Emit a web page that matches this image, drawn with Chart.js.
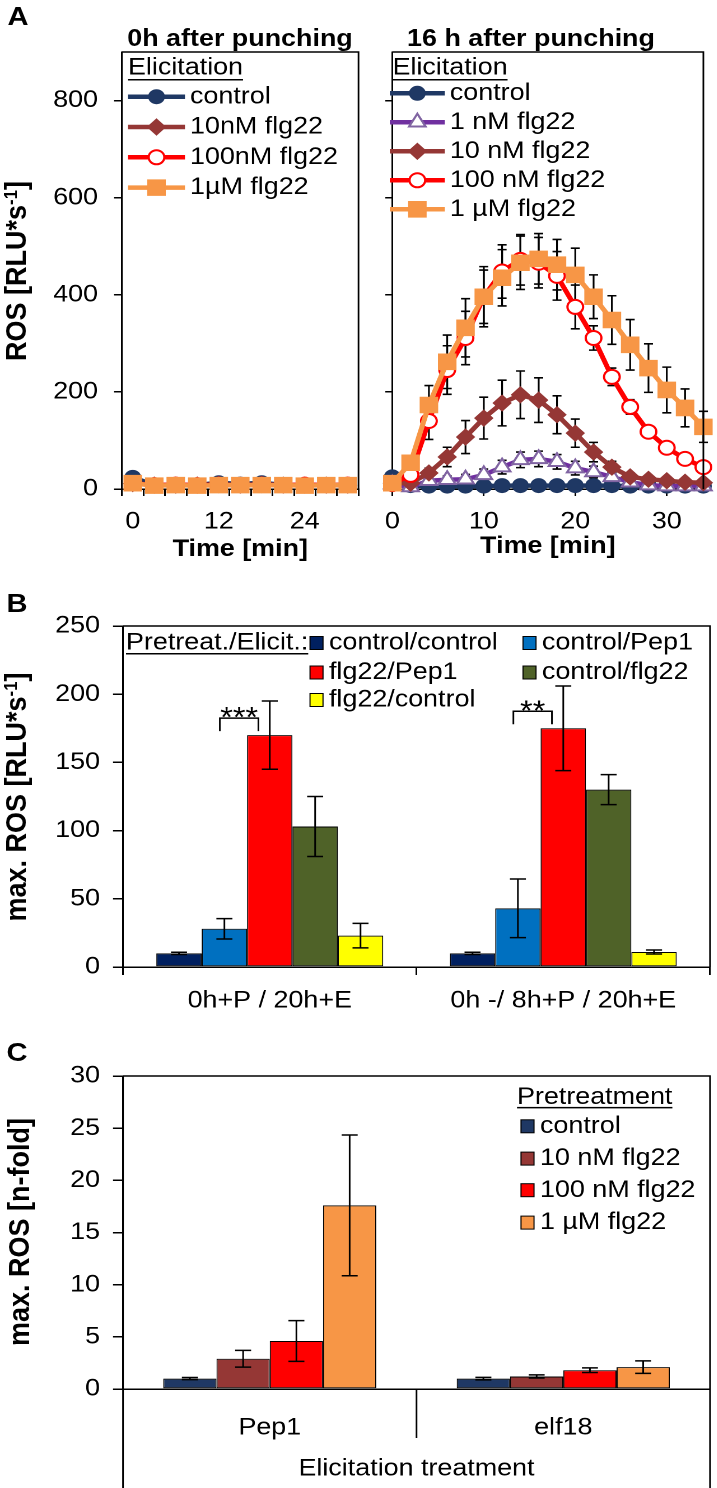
<!DOCTYPE html>
<html><head><meta charset="utf-8">
<script src="https://cdn.jsdelivr.net/npm/chart.js@4.4.1/dist/chart.umd.min.js"></script>
<style>
html,body{margin:0;padding:0;background:#fff;}
body{width:717px;height:1488px;overflow:hidden;position:relative;font-family:"Liberation Sans",Arial,sans-serif;}
#root{position:absolute;left:0;top:0;width:640.18px;height:1488px;transform:scaleX(1.12);transform-origin:0 0;}
.box{position:absolute;}
.txt{position:absolute;white-space:nowrap;color:#000;line-height:1;}
.txt sup{font-size:0.62em;vertical-align:0.5em;line-height:0;}
</style></head><body><div id="root"></div>
<script>
// ---------- DATA ----------
// Panel A, 0 h after punching (time in min)
const timesA0 = [0,3,6,9,12,15,18,21,24,27,30];
const a0ShownTicks = [0,12,24];
const a0Control  = [24,8,8,8,13,10,13,8,8,8,8];
const a0Flg10    = [11,8,8,8,9,8,9,8,8,8,8];
const a0Flg100   = [12,8,9,8,9,8,9,8,9,8,9];
const a0Flg1000  = [12,7,8,7,8,8,8,8,7,8,8];
// Panel A, 16 h after punching
const timesA16 = [0,2,4,6,8,10,12,14,16,18,20,22,24,26,28,30,32,34];
const a16XTicks = [0,10,20,30];
const a16Control = [25,7,6,6,6,6,7,7,7,7,7,7,7,6,6,6,6,6];
const a16Flg1    = [10,4,17,19,20,29,45,60,62,56,43,35,25,14,8,6,6,6];
const a16Flg10   = [12,12,33,66,107,146,177,194,183,153,115,76,45,25,20,17,14,13];
const a16Flg100  = [10,29,140,245,311,396,448,472,466,439,375,311,231,169,118,85,62,45];
const a16Flg1000 = [12,54,173,262,332,396,435,466,474,462,441,396,348,297,249,204,167,128];
const a16ErrControl = [2,2,2,2,2,2,2,2,2,2,2,2,2,2,2,2,2,2];
const a16ErrFlg1    = [2,3,5,8,10,12,14,16,16,15,14,12,10,8,5,4,3,3];
const a16ErrFlg10   = [2,4,10,20,34,43,47,49,46,39,29,20,12,8,5,4,3,3];
const a16ErrFlg100  = [2,8,38,50,55,55,55,52,52,50,45,25,18,15,12,10,8,6];
const a16ErrFlg1000 = [2,10,40,55,60,62,58,55,52,52,55,45,50,52,50,47,39,32];
// Panel B
const catsB = ['0h+P / 20h+E','0h -/ 8h+P / 20h+E'];
const bCtrlCtrl = [10,10];
const bCtrlPep1 = [28,43];
const bFlgPep1  = [170,175];
const bCtrlFlg  = [103,130];
const bFlgCtrl  = [23,11];
const bErrCtrlCtrl = [0.8,0.8];
const bErrCtrlPep1 = [7.5,21.5];
const bErrFlgPep1  = [25,31];
const bErrCtrlFlg  = [22,11];
const bErrFlgCtrl  = [9,1.5];
const sigText = ['***','**'];
const sigTop  = [182.5,187.5];
// Panel C
const catsC = ['Pep1','elf18'];
const cCtrl    = [1.0,1.0];
const cFlg10   = [2.9,1.2];
const cFlg100  = [4.6,1.8];
const cFlg1000 = [17.6,2.1];
const cErrCtrl    = [0.1,0.12];
const cErrFlg10   = [0.8,0.15];
const cErrFlg100  = [1.95,0.22];
const cErrFlg1000 = [6.75,0.6];

// ---------- SETUP ----------
const S = 1.12;
const ix = v => v / S;
const FONT = '"Liberation Sans", Arial, sans-serif';
Chart.defaults.font.family = FONT;
Chart.defaults.font.size = 24;
Chart.defaults.color = '#000';
const root = document.getElementById('root');

const NAVY='#1F3864', PURPLE='#7030A0', PURPLE_M='#8064A2', BROWN='#953735', RED='#FF0000', ORANGE='#F79646';

function addText(html, vx, vy, css, rot) {
  const d = document.createElement('div');
  d.className = 'txt';
  d.innerHTML = html;
  d.style.cssText += css;
  d.style.left = ix(vx) + 'px';
  d.style.top = vy + 'px';
  d.style.transform = 'translate(-50%,-50%)' + (rot ? ' rotate(-90deg)' : '');
  root.appendChild(d);
}

function makeChart(vLeft, top, vWidth, height, config) {
  const div = document.createElement('div');
  div.className = 'box';
  div.style.left = ix(vLeft) + 'px';
  div.style.top = top + 'px';
  div.style.width = ix(vWidth) + 'px';
  div.style.height = height + 'px';
  const c = document.createElement('canvas');
  div.appendChild(c);
  root.appendChild(div);
  const o = config.options;
  o.responsive = true; o.maintainAspectRatio = false; o.animation = false; o.devicePixelRatio = 2;
  o.plugins = Object.assign({legend:{display:false}, tooltip:{enabled:false}}, o.plugins || {});
  return new Chart(c, config);
}

function yAxis(o) {
  const ax = {
    type: 'linear', min: o.min, max: o.max,
    ticks: { stepSize: o.step, display: o.labels !== false, padding: o.pad, color: '#000', font: {size: 24} },
    grid: { drawOnChartArea: false, drawTicks: true, tickLength: o.tl, color: '#000', lineWidth: 1.5 },
    border: { display: true, color: '#000', width: 1.5 },
    afterFit: s => { s.width = o.width; }
  };
  if (o.keep) ax.afterBuildTicks = s => { s.ticks = s.ticks.filter(t => o.keep(t.value)); };
  return ax;
}

// ---------- PLUGINS ----------
const framePlugin = { id: 'frame', afterDraw(chart, args, o) {
  const ctx = chart.ctx, a = chart.chartArea;
  ctx.save(); ctx.strokeStyle = '#000'; ctx.lineWidth = 1.5;
  ctx.beginPath(); ctx.moveTo(a.left, a.top); ctx.lineTo(a.right, a.top); ctx.lineTo(a.right, a.bottom); ctx.stroke();
  if (o && o.extend) {
    ctx.beginPath();
    ctx.moveTo(a.left, a.top); ctx.lineTo(a.left, chart.height);
    ctx.moveTo(a.right, a.bottom); ctx.lineTo(a.right, chart.height);
    const xs = chart.scales.x;
    const mid = (xs.getPixelForValue(0) + xs.getPixelForValue(1)) / 2;
    ctx.moveTo(mid, a.bottom); ctx.lineTo(mid, a.bottom + o.divLen);
    ctx.stroke();
  }
  ctx.restore();
}};

function drawErr(chart, o) {
  const ctx = chart.ctx, ys = chart.scales.y;
  chart.data.datasets.forEach((ds, i) => {
    if (!ds.errors) return;
    const meta = chart.getDatasetMeta(i);
    ctx.save(); ctx.strokeStyle = '#000'; ctx.lineWidth = o.lw || 1.5;
    meta.data.forEach((el, j) => {
      const e = ds.errors[j]; if (e == null) return;
      const d = ds.data[j]; const v = (typeof d === 'object') ? d.y : d;
      const x = el.x, yt = ys.getPixelForValue(v + e), yb = ys.getPixelForValue(v - e);
      ctx.beginPath();
      ctx.moveTo(x, yt); ctx.lineTo(x, yb);
      ctx.moveTo(x - o.cap, yt); ctx.lineTo(x + o.cap, yt);
      ctx.moveTo(x - o.cap, yb); ctx.lineTo(x + o.cap, yb);
      ctx.stroke();
    });
    ctx.restore();
  });
}
const errPlugin = { id: 'errbars',
  beforeDatasetsDraw(chart, a, o) { if (o && o.cap && !o.after) drawErr(chart, o); },
  afterDatasetsDraw(chart, a, o) { if (o && o.cap && o.after) drawErr(chart, o); }
};

function drawMarker(ctx, ds, x, y) {
  ctx.save();
  ctx.fillStyle = ds.pointBackgroundColor; ctx.strokeStyle = ds.pointBorderColor; ctx.lineWidth = ds.pointBorderWidth;
  Chart.helpers.drawPoint(ctx, {pointStyle: ds.pointStyle, radius: ds.pointRadius, borderWidth: ds.pointBorderWidth, rotation: 0}, x, y);
  ctx.restore();
}

const lineLegend = { id: 'lineLegend', afterDraw(chart, args, o) {
  if (!o || !o.items) return;
  const ctx = chart.ctx;
  ctx.save();
  ctx.font = '24px ' + FONT; ctx.textBaseline = 'middle'; ctx.textAlign = 'left'; ctx.fillStyle = '#000';
  ctx.fillText(o.header, o.hx, o.hy);
  const w = ctx.measureText(o.header).width;
  ctx.fillRect(o.hx, o.hy + o.ul, w, 1.5);
  o.items.forEach((di, k) => {
    const ds = chart.data.datasets[di];
    const y = o.y0 + k * o.dy;
    ctx.strokeStyle = ds.borderColor; ctx.lineWidth = ds.borderWidth;
    ctx.beginPath(); ctx.moveTo(o.lx0, y); ctx.lineTo(o.lx1, y); ctx.stroke();
    drawMarker(ctx, ds, (o.lx0 + o.lx1) / 2, y);
    ctx.fillStyle = '#000';
    ctx.fillText(ds.label, o.tx, y);
  });
  ctx.restore();
}};

const barLegend = { id: 'barLegend', afterDraw(chart, args, o) {
  if (!o || !o.items) return;
  const ctx = chart.ctx;
  ctx.save();
  ctx.font = '24px ' + FONT; ctx.textBaseline = 'middle'; ctx.textAlign = 'left'; ctx.fillStyle = '#000';
  ctx.fillText(o.header, o.hx, o.hy);
  const w = ctx.measureText(o.header).width;
  ctx.fillRect(o.hx, o.hy + o.ul, w, 1.5);
  o.items.forEach(it => {
    const ds = chart.data.datasets[it.ds];
    ctx.fillStyle = ds.backgroundColor;
    ctx.fillRect(it.x, it.y - o.sh / 2, o.sw, o.sh);
    ctx.strokeStyle = '#000'; ctx.lineWidth = 1;
    ctx.strokeRect(it.x, it.y - o.sh / 2, o.sw, o.sh);
    ctx.fillStyle = '#000';
    ctx.fillText(ds.label, it.x + o.tdx, it.y);
  });
  ctx.restore();
}};

const sigPlugin = { id: 'sig', afterDatasetsDraw(chart, args, o) {
  if (!o || !o.on) return;
  const ctx = chart.ctx, ys = chart.scales.y;
  ctx.save(); ctx.strokeStyle = '#000'; ctx.lineWidth = 1.5; ctx.fillStyle = '#000';
  ctx.font = '29px ' + FONT; ctx.textAlign = 'center'; ctx.textBaseline = 'alphabetic';
  sigText.forEach((t, k) => {
    const b1 = chart.getDatasetMeta(1).data[k], b2 = chart.getDatasetMeta(2).data[k];
    const w = b2.width;
    const xL = b1.x - 0.1 * w, xR = b2.x - 0.25 * w;
    const yT = ys.getPixelForValue(sigTop[k]);
    ctx.beginPath(); ctx.moveTo(xL, yT + o.leg); ctx.lineTo(xL, yT); ctx.lineTo(xR, yT); ctx.lineTo(xR, yT + o.leg); ctx.stroke();
    ctx.fillText(t, (xL + xR) / 2, yT + 9);
  });
  ctx.restore();
}};

function lineDS(label, data, color, style, radius, fill, border, bw, order, errors) {
  return { label, data, borderColor: color, backgroundColor: color, borderWidth: 4.5,
    pointStyle: style, pointRadius: radius, pointBackgroundColor: fill, pointBorderColor: border,
    pointBorderWidth: bw, tension: 0, order, errors, clip: false };
}
function barDS(label, data, color, errors) {
  return { label, data, backgroundColor: color, borderColor: '#000', borderWidth: 1, borderSkipped: false, errors };
}

// ---------- PANEL A LEFT ----------
makeChart(0, 0, 372, 570, {
  type: 'line',
  data: { labels: timesA0.map(String), datasets: [
    lineDS('control', a0Control, NAVY, 'circle', 7, NAVY, NAVY, 1, 4),
    lineDS('10nM flg22', a0Flg10, BROWN, 'rectRot', 8, BROWN, BROWN, 1, 3),
    lineDS('100nM flg22', a0Flg100, RED, 'circle', 7, '#fff', RED, 2, 2),
    lineDS('1µM flg22', a0Flg1000, ORANGE, 'rect', 11, ORANGE, ORANGE, 1, 1)
  ]},
  options: {
    layout: { padding: { left: 0, right: ix(372 - 359), top: 52, bottom: 0 } },
    plugins: {
      lineLegend: { header: 'Elicitation', hx: ix(128), hy: 68, ul: 11, y0: 96.7, dy: 30.3,
        lx0: ix(128), lx1: ix(185), tx: ix(190), items: [0,1,2,3] }
    },
    scales: {
      x: { type: 'category', offset: true,
        grid: { offset: true, drawOnChartArea: false, tickLength: 7, color: '#000', lineWidth: 1.5 },
        border: { color: '#000', width: 1.5 },
        ticks: { autoSkip: false, maxRotation: 0, padding: 11.6, color: '#000',
          callback: (v, i) => a0ShownTicks.includes(timesA0[i]) ? String(timesA0[i]) : '' },
        title: { display: true, text: 'Time [min]', color: '#000', font: { size: 24, weight: 'bold' }, padding: { top: 0, bottom: 6 } },
        afterFit: s => { s.height = 570 - 489; } },
      y: yAxis({ min: 0, max: 900, step: 200, pad: ix(16), tl: ix(8), width: ix(122), keep: v => v <= 800 })
    }
  },
  plugins: [errPlugin, framePlugin, lineLegend]
});

// ---------- PANEL A RIGHT ----------
const xy = vals => timesA16.map((t, i) => ({ x: t, y: vals[i] }));
makeChart(372, 0, 345, 570, {
  type: 'line',
  data: { datasets: [
    lineDS('control', xy(a16Control), NAVY, 'circle', 7, NAVY, NAVY, 1, 5, a16ErrControl),
    lineDS('1 nM flg22', xy(a16Flg1), PURPLE, 'triangle', 8.5, '#fff', PURPLE_M, 2, 4, a16ErrFlg1),
    lineDS('10 nM flg22', xy(a16Flg10), BROWN, 'rectRot', 8, BROWN, BROWN, 1, 3, a16ErrFlg10),
    lineDS('100 nM flg22', xy(a16Flg100), RED, 'circle', 7, '#fff', RED, 2, 2, a16ErrFlg100),
    lineDS('1 µM flg22', xy(a16Flg1000), ORANGE, 'rect', 11, ORANGE, ORANGE, 1, 1, a16ErrFlg1000)
  ]},
  options: {
    layout: { padding: { left: 0, right: ix(345 - 334), top: 52, bottom: 0 } },
    plugins: {
      errbars: { cap: ix(4.5), lw: 1.6, after: false },
      lineLegend: { header: 'Elicitation', hx: ix(392.7 - 372), hy: 68, ul: 11, y0: 93.3, dy: 29,
        lx0: ix(390 - 372), lx1: ix(445 - 372), tx: ix(450 - 372), items: [0,1,2,3,4] }
    },
    scales: {
      x: { type: 'linear', min: 0, max: 34,
        grid: { drawOnChartArea: false, tickLength: 7, color: '#000', lineWidth: 1.5 },
        border: { color: '#000', width: 1.5 },
        ticks: { stepSize: 10, maxRotation: 0, padding: 11.6, color: '#000' },
        afterBuildTicks: s => { s.ticks = a16XTicks.map(v => ({ value: v })); },
        title: { display: true, text: 'Time [min]', color: '#000', font: { size: 24, weight: 'bold' }, padding: { top: 0, bottom: 9 } },
        afterFit: s => { s.height = 570 - 489; } },
      y: yAxis({ min: 0, max: 900, step: 200, labels: false, pad: 0, tl: ix(7), width: ix(11), keep: v => v <= 800 })
    }
  },
  plugins: [errPlugin, framePlugin, lineLegend]
});

// ---------- PANEL B ----------
makeChart(0, 575, 717, 440, {
  type: 'bar',
  data: { labels: catsB, datasets: [
    barDS('control/control', bCtrlCtrl, '#002060', bErrCtrlCtrl),
    barDS('control/Pep1', bCtrlPep1, '#0070C0', bErrCtrlPep1),
    barDS('flg22/Pep1', bFlgPep1, '#FF0000', bErrFlgPep1),
    barDS('control/flg22', bCtrlFlg, '#4F6228', bErrCtrlFlg),
    barDS('flg22/control', bFlgCtrl, '#FFFF00', bErrFlgCtrl)
  ]},
  options: {
    categoryPercentage: 0.773, barPercentage: 1.0,
    layout: { padding: { left: 0, right: ix(717 - 710), top: 626 - 575, bottom: 0 } },
    plugins: {
      errbars: { cap: ix(8), lw: 1.5, after: true },
      sig: { on: true, leg: 13 },
      barLegend: { header: 'Pretreat./Elicit.:', hx: ix(126), hy: 68, ul: 10, sw: ix(13), sh: 13, tdx: ix(19),
        items: [ {ds:0, x: ix(310), y: 68}, {ds:1, x: ix(523), y: 68},
                 {ds:2, x: ix(310), y: 97.5}, {ds:3, x: ix(523), y: 97.5},
                 {ds:4, x: ix(310), y: 125} ] }
    },
    scales: {
      x: { type: 'category',
        grid: { offset: true, drawOnChartArea: false, tickLength: 8, color: '#000', lineWidth: 1.5 },
        border: { color: '#000', width: 1.5 },
        ticks: { maxRotation: 0, autoSkip: false, padding: 11.6, color: '#000' },
        afterFit: s => { s.height = 1015 - 967; } },
      y: yAxis({ min: 0, max: 250, step: 50, pad: ix(13), tl: ix(10), width: ix(123) })
    }
  },
  plugins: [errPlugin, sigPlugin, framePlugin, barLegend]
});

// ---------- PANEL C ----------
makeChart(0, 1020, 717, 468, {
  type: 'bar',
  data: { labels: catsC, datasets: [
    barDS('control', cCtrl, '#1F3864', cErrCtrl),
    barDS('10 nM flg22', cFlg10, '#953735', cErrFlg10),
    barDS('100 nM flg22', cFlg100, '#FF0000', cErrFlg100),
    barDS('1 µM flg22', cFlg1000, '#F79646', cErrFlg1000)
  ]},
  options: {
    categoryPercentage: 0.726, barPercentage: 1.0,
    layout: { padding: { left: 0, right: ix(717 - 710), top: 1076 - 1020, bottom: 0 } },
    plugins: {
      errbars: { cap: ix(8), lw: 1.5, after: true },
      frame: { extend: true, divLen: 49 },
      barLegend: { header: 'Pretreatment', hx: ix(517), hy: 77.4, ul: 9.5, sw: ix(13), sh: 13, tdx: ix(19),
        items: [ {ds:0, x: ix(521), y: 106.3}, {ds:1, x: ix(521), y: 138.6},
                 {ds:2, x: ix(521), y: 170.2}, {ds:3, x: ix(521), y: 202.6} ] }
    },
    scales: {
      x: { type: 'category',
        grid: { display: false },
        border: { color: '#000', width: 1.5 },
        ticks: { maxRotation: 0, autoSkip: false, padding: 16.6, color: '#000' },
        title: { display: true, text: 'Elicitation treatment', color: '#000', font: { size: 24 }, padding: { top: 0, bottom: 4.6 } },
        afterFit: s => { s.height = 1488 - 1389; } },
      y: yAxis({ min: 0, max: 30, step: 5, pad: ix(13), tl: ix(10), width: ix(123) })
    }
  },
  plugins: [errPlugin, framePlugin, barLegend]
});

// ---------- HTML TEXT ----------
const bold = 'font-weight:bold;font-family:' + FONT + ';';
addText('A', 18, 16, bold + 'font-size:26px;');
addText('B', 17, 603, bold + 'font-size:26px;');
addText('C', 17, 1052, bold + 'font-size:26px;');
addText('0h after punching', 240, 38, bold + 'font-size:24px;');
addText('16 h after punching', 531, 38, bold + 'font-size:24px;');
addText('ROS [RLU*s<sup>-1</sup>]', 17, 271, bold + 'font-size:27px;', true);
addText('max. ROS [RLU*s<sup>-1</sup>]', 17, 797, bold + 'font-size:27px;', true);
addText('max. ROS [n-fold]', 19, 1232, bold + 'font-size:27px;', true);
</script></body></html>
